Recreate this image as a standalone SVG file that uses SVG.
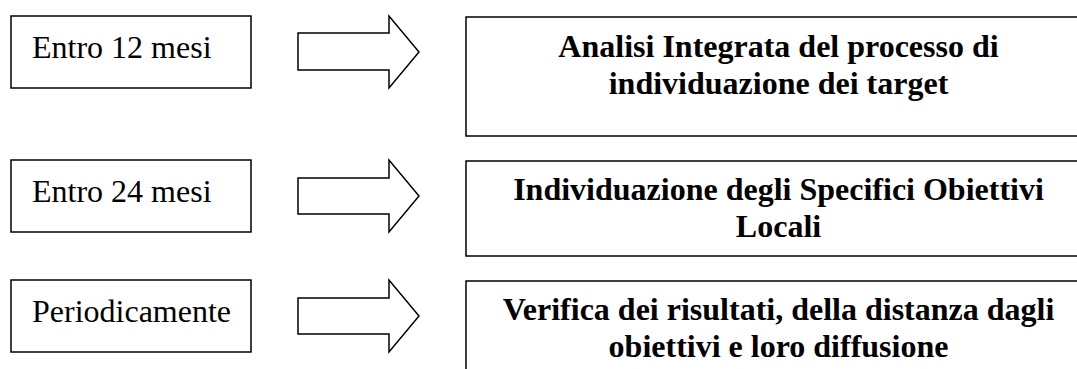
<svg xmlns="http://www.w3.org/2000/svg" width="1077" height="369" viewBox="0 0 1077 369">
<style>
.box{fill:#fff;stroke:#000;stroke-width:1.5}
.arrow{fill:#fff;stroke:#000;stroke-width:1.5;stroke-linejoin:miter}
.lt{font-family:"Liberation Serif","Times New Roman",serif;font-size:32px;fill:#000}
.rt{font-family:"Liberation Serif","Times New Roman",serif;font-size:32px;font-weight:bold;fill:#000;text-anchor:middle}
</style>
<rect width="1077" height="369" fill="#fff"/>
<g id="when1"><rect class="box" x="11" y="16" width="240" height="72"/><text class="lt" x="32" y="58">Entro 12 mesi</text></g>
<g id="when2"><rect class="box" x="11" y="160" width="240" height="72"/><text class="lt" x="32" y="202">Entro 24 mesi</text></g>
<g id="when3"><rect class="box" x="11" y="280" width="240" height="72"/><text class="lt" x="32" y="322">Periodicamente</text></g>
<g id="connectors">
<path class="arrow" d="M298,33 H389 V16 L419,52 L389,88 V70 H298 Z"/>
<path class="arrow" d="M298,178 H389 V160 L419,196 L389,232 V214 H298 Z"/>
<path class="arrow" d="M298,298 H389 V280 L419,316 L389,352 V334 H298 Z"/>
</g>
<g id="task1"><rect class="box" x="466" y="17" width="625" height="119"/><text class="rt" x="778.5" y="57">Analisi Integrata del processo di</text><text class="rt" x="778.5" y="94">individuazione dei target</text></g>
<g id="task2"><rect class="box" x="466" y="161" width="625" height="95"/><text class="rt" x="778.5" y="200">Individuazione degli Specifici Obiettivi</text><text class="rt" x="778.5" y="237">Locali</text></g>
<g id="task3"><rect class="box" x="466" y="281" width="625" height="100"/><text class="rt" x="778.5" y="320">Verifica dei risultati, della distanza dagli</text><text class="rt" x="778.5" y="357">obiettivi e loro diffusione</text></g>
</svg>
